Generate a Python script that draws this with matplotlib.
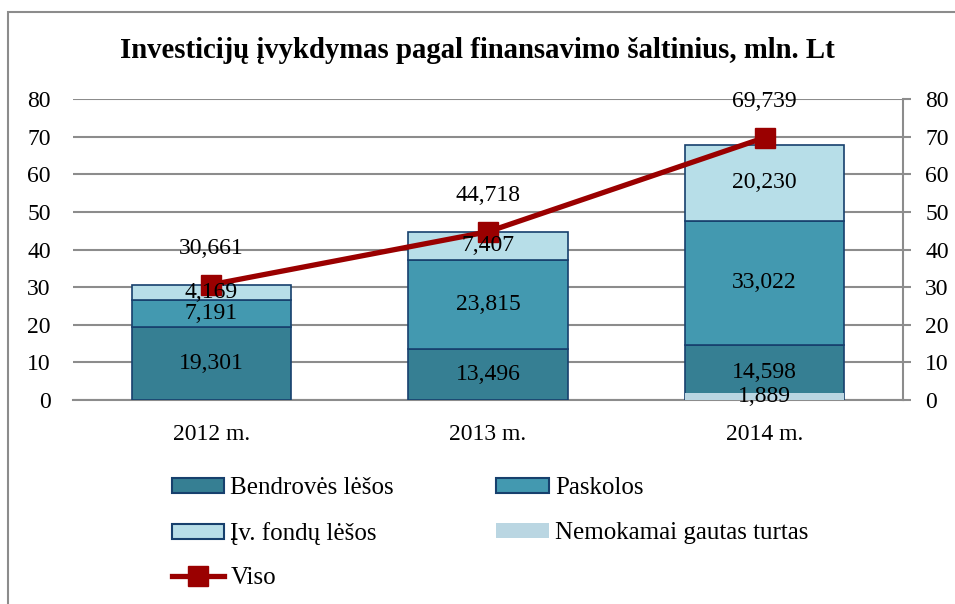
import matplotlib.pyplot as plt
from matplotlib.patches import Rectangle, Patch
from matplotlib.lines import Line2D
import numpy as np

plt.rcParams['font.family'] = ['Liberation Serif', 'DejaVu Serif']

years = ['2012 m.', '2013 m.', '2014 m.']
bendroves = [19.301, 13.496, 14.598]
paskolos = [7.191, 23.815, 33.022]
fondu = [4.169, 7.407, 20.230]
nemokamai = [None, None, 1.889]
viso = [30.661, 44.718, 69.739]

c_bendr = '#367F93'
c_pask = '#4399B0'
c_fond = '#B7DEE8'
c_nemok = '#BAD6E2'
c_edge = '#17406D'
c_line = '#9A0000'
c_grid = '#8C8C8C'


def fmt(v):
    return f"{v:.3f}".replace('.', ',')


fig = plt.figure(figsize=(9.55, 6.04), dpi=100)
ax = fig.add_axes([73/955, 1-400/604, 830/955, 301/604])

x = np.arange(len(years))
w = 0.575
fs = 17

b1 = ax.bar(x, bendroves, w, color=c_bendr, edgecolor=c_edge, linewidth=1.2, zorder=3)
b2 = ax.bar(x, paskolos, w, bottom=bendroves, color=c_pask, edgecolor=c_edge,
            linewidth=1.2, zorder=3)
bot3 = [a + b for a, b in zip(bendroves, paskolos)]
b3 = ax.bar(x, fondu, w, bottom=bot3, color=c_fond, edgecolor=c_edge, linewidth=1.2, zorder=3)

# nemokamai gautas turtas - overlay from zero (secondary-axis series in original)
for i, v in enumerate(nemokamai):
    if v is None:
        continue
    ax.bar(x[i], v, w, color=c_nemok, linewidth=0, zorder=4)
    ax.text(x[i], v / 2, fmt(v), ha='center', va='center', fontsize=fs, zorder=8)

# segment labels
for i in range(len(years)):
    ax.text(x[i], bendroves[i] / 2, fmt(bendroves[i]), ha='center', va='center',
            fontsize=fs, zorder=8)
    ax.text(x[i], bendroves[i] + paskolos[i] / 2, fmt(paskolos[i]), ha='center',
            va='center', fontsize=fs, zorder=8)
    ax.text(x[i], bot3[i] + fondu[i] / 2, fmt(fondu[i]), ha='center', va='center',
            fontsize=fs, zorder=8)

ax.plot(x, viso, color=c_line, linewidth=3.8, marker='s', markersize=14,
        zorder=6)
for i, v in enumerate(viso):
    ax.annotate(fmt(v), (x[i], v), xytext=(0, 26), textcoords='offset points',
                ha='center', va='center', fontsize=fs, zorder=8)

ax.set_xlim(-0.5, 2.5)
ax.set_ylim(0, 80)
ax.set_yticks(range(0, 81, 10))
ax.set_xticks(x)
ax.set_xticklabels(years, fontsize=fs)
ax.grid(axis='y', color=c_grid, linewidth=1.5, zorder=0)
ax.set_axisbelow(True)

for s in ['top', 'left']:
    ax.spines[s].set_visible(False)
ax.spines['bottom'].set_color(c_grid)
ax.spines['bottom'].set_linewidth(1.5)
ax.spines['right'].set_color(c_grid)
ax.spines['right'].set_linewidth(1.5)

ax.tick_params(axis='x', length=0, pad=17)
ax.tick_params(axis='y', labelsize=fs, left=True, right=True, labelleft=True,
               labelright=True, direction='out', length=6, width=1.5,
               color=c_grid, pad=10)
for t in ax.yaxis.get_major_ticks():
    t.tick1line.set_visible(False)

fig.text(0.5, 1-50/604, 'Investicijų įvykdymas pagal finansavimo šaltinius, mln. Lt',
         ha='center', va='center', fontsize=20.7, fontweight='bold')

handles = [
    Patch(facecolor=c_bendr, edgecolor=c_edge, linewidth=1.5),
    Patch(facecolor=c_fond, edgecolor=c_edge, linewidth=1.5),
    Line2D([0], [0], color=c_line, linewidth=3.8, marker='s', markersize=14),
    Patch(facecolor=c_pask, edgecolor=c_edge, linewidth=1.5),
    Patch(facecolor=c_nemok, linewidth=0),
]
labels = ['Bendrovės lėšos', 'Įv. fondų lėšos', 'Viso', 'Paskolos',
          'Nemokamai gautas turtas']
fig.legend(handles, labels, ncol=2, loc='upper left',
           bbox_to_anchor=(149/955, 1-455/604), frameon=False, fontsize=18,
           handlelength=2.1, handleheight=0.55, handletextpad=0.25,
           labelspacing=0.9, columnspacing=4.1)

# outer chart frame
fig.add_artist(Rectangle((8/955, -0.1), 1.1, 1.1 - 12/604, transform=fig.transFigure,
                         fill=False, edgecolor='#8C8C8C', linewidth=1.5))

fig.savefig('out.png', dpi=100)
